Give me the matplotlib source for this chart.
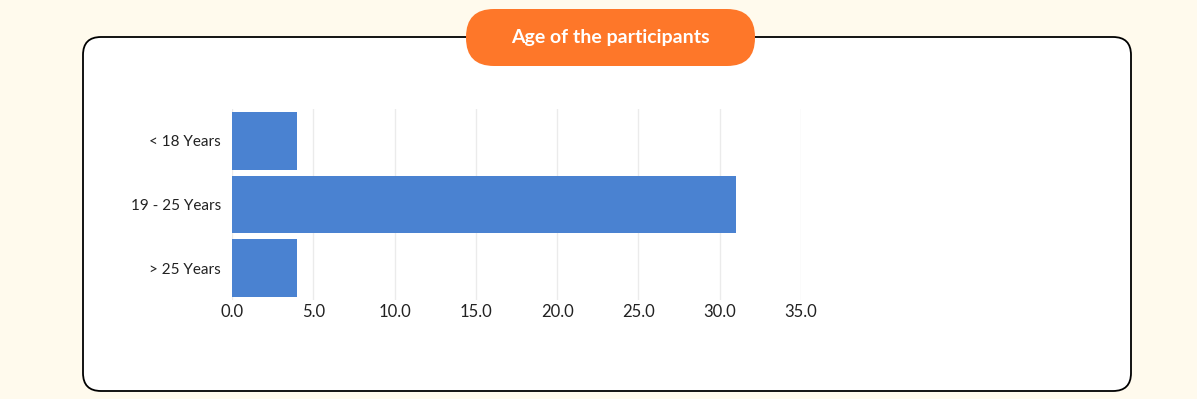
import matplotlib.pyplot as plt
from matplotlib.patches import FancyBboxPatch

categories = ["< 18 Years", "19 - 25 Years", "> 25 Years"]
counts = [4, 31, 4]
x_ticks = [0, 5, 10, 15, 20, 25, 30, 35]
title = "Age of the participants"

W, H = 1197, 399
fig = plt.figure(figsize=(W / 100, H / 100), dpi=100)
fig.patch.set_facecolor("#fffaed")

# background axes in pixel coordinates for the card and the title pill
bg = fig.add_axes([0, 0, 1, 1], zorder=0)
bg.set_xlim(0, W)
bg.set_ylim(H, 0)
bg.axis("off")

card = FancyBboxPatch((83, 37), 1131 - 83, 391 - 37,
                      boxstyle="round,pad=0,rounding_size=18",
                      facecolor="white", edgecolor="black", linewidth=1.3)
bg.add_patch(card)

pill = FancyBboxPatch((466, 9), 755 - 466, 66 - 9,
                      boxstyle="round,pad=0,rounding_size=28",
                      facecolor="#fe7729", edgecolor="none")
bg.add_patch(pill)
bg.text(610, 38, title, color="white", fontsize=14, fontweight="bold",
        family="Lato", ha="center", va="center")


def fx(px):
    return px / W


def fy(py):
    return 1 - py / H


ax = fig.add_axes([fx(232), fy(300), fx(801) - fx(232), fy(109) - fy(300)], zorder=2)
ax.set_facecolor("none")
ypos = list(range(len(categories)))
ax.barh(ypos, counts, height=0.91, color="#4a82d1", zorder=3)
ax.set_ylim(len(categories) - 0.5, -0.5)
ax.set_xlim(0, 35)
ax.set_xticks(x_ticks)
ax.set_xticklabels([f"{t:.1f}" for t in x_ticks], family="Lato", fontsize=12,
                   color="#222222")
ax.set_yticks(ypos)
ax.set_yticklabels(categories, family="Lato", fontsize=11, color="#222222")
ax.tick_params(length=0, pad=8)
ax.tick_params(axis="x", pad=3)
ax.grid(axis="x", color="#ebebeb", linewidth=1, zorder=0)
for s in ax.spines.values():
    s.set_visible(False)

fig.savefig("out.png", dpi=100, facecolor=fig.get_facecolor())
